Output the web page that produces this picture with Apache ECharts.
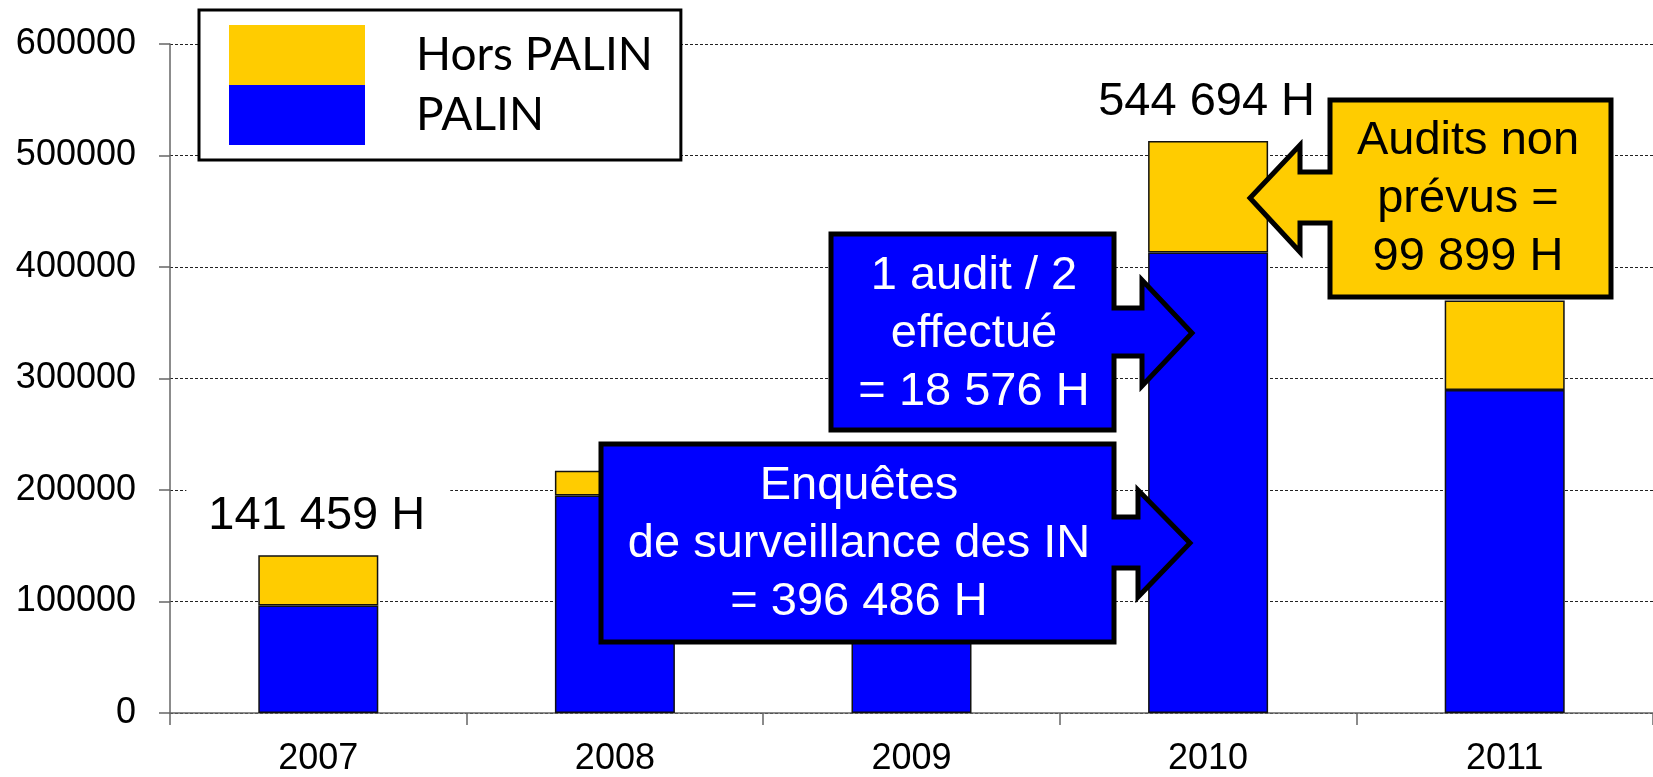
<!DOCTYPE html>
<html>
<head>
<meta charset="utf-8">
<script src="https://cdn.jsdelivr.net/npm/echarts@6/dist/echarts.min.js"></script>
<style>
html,body{margin:0;padding:0;background:#fff}
#chart{width:1653px;height:777px}
</style>
</head>
<body>
<div id="chart"></div>
<script>
// data
var years=['2007','2008','2009','2010','2011'];
var palin=[96500,195000,205000,413000,289700];
var horsPalin=[44959,22300,25000,99899,80200];
var totalLabels=['141 459 H','','','544 694 H',''];
var yMin=0,yMax=600000,yStep=100000;

var BLUE='#0000ff',YELLOW='#ffcc00',AXIS='#666';
var FONT='"Liberation Sans", Arial, sans-serif';

// callout outline: box + arrow (dir 1 = arrow on the right, -1 = on the left)
function callout(c){
  var L=c.box[0],T=c.box[1],R=c.box[2],B=c.box[3];
  var e=c.dir>0?R:L;
  var a=[[e,c.s1],[c.x1,c.s1],[c.x1,c.h1],[c.tip[0],c.tip[1]],[c.x1,c.h2],[c.x1,c.s2],[e,c.s2]];
  var pts;
  if(c.dir>0) pts=[[L,T],[R,T]].concat(a,[[R,B],[L,B]]);
  else pts=[[R,T],[R,B],[L,B]].concat(a.reverse(),[[L,T]]);
  return [{
    type:'polygon',z:100,
    shape:{points:pts},
    style:{fill:c.fill,stroke:'#000',lineWidth:5,lineJoin:'miter'}
  },{
    type:'text',z:101,x:c.tx,y:c.ty,
    style:{text:c.lines.join('\n'),fill:c.color,font:'47px '+FONT,
      align:'center',verticalAlign:'middle',lineHeight:58}
  }];
}

var callouts=[
  {box:[1330,100,1611,297],dir:-1,x1:1300,s1:172,s2:223,h1:145,h2:252,tip:[1250,198],
   fill:YELLOW,color:'#000',lines:['Audits non','prévus =','99 899 H'],tx:1468,ty:199},
  {box:[831,234,1114,430],dir:1,x1:1142,s1:308,s2:356,h1:280,h2:386,tip:[1192,333],
   fill:BLUE,color:'#fff',lines:['1 audit / 2','effectué','= 18 576 H'],tx:974,ty:334},
  {box:[601,444,1114,642],dir:1,x1:1138,s1:517,s2:568,h1:490,h2:597,tip:[1190,543],
   fill:BLUE,color:'#fff',lines:['Enquêtes','de surveillance des IN','= 396 486 H'],tx:859,ty:544}
];
var graphics=[];
callouts.forEach(function(c){graphics=graphics.concat(callout(c));});

var chart=echarts.init(document.getElementById('chart'));
chart.setOption({
  animation:false,
  backgroundColor:'#fff',
  grid:{left:170,top:44,width:1488,height:672.5,containLabel:false},
  legend:{
    orient:'vertical',left:199,top:10,
    data:['Hors PALIN','PALIN'],
    padding:[15,28,15,30],itemGap:0,itemWidth:136,itemHeight:60,
    icon:'rect',itemStyle:{borderWidth:0},
    backgroundColor:'#fff',borderColor:'#000',borderWidth:3,borderRadius:0,
    textStyle:{fontFamily:'Lato, "Open Sans", sans-serif',fontSize:46,color:'#000',
      padding:[0,0,0,46],lineHeight:60}
  },
  xAxis:{
    type:'category',data:years,
    axisLine:{lineStyle:{color:AXIS,width:1.5}},
    axisTick:{show:true,length:12,lineStyle:{color:AXIS,width:1.5}},
    axisLabel:{color:'#000',fontFamily:FONT,fontSize:36,margin:28}
  },
  yAxis:{
    type:'value',min:yMin,max:yMax,interval:yStep,
    axisLine:{show:true,lineStyle:{color:AXIS,width:1.5}},
    axisTick:{show:true,length:11,lineStyle:{color:AXIS,width:1.5}},
    axisLabel:{color:'#000',fontFamily:FONT,fontSize:36,margin:34,
      formatter:function(v){return String(v);}},
    splitLine:{lineStyle:{color:'#222',width:1,type:[3,2]}}
  },
  series:[{
    name:'PALIN',type:'bar',stack:'total',barWidth:120,
    itemStyle:{color:BLUE,borderColor:'#111',borderWidth:1.5},
    data:palin
  },{
    name:'Hors PALIN',type:'bar',stack:'total',barWidth:120,
    itemStyle:{color:YELLOW,borderColor:'#111',borderWidth:1.5},
    data:horsPalin.map(function(v,i){
      return {value:v,label:{show:!!totalLabels[i]}};
    }),
    label:{position:'top',distance:16,color:'#000',fontFamily:FONT,fontSize:47,
      backgroundColor:'#fff',padding:[8,25,0,22],
      formatter:function(p){return totalLabels[p.dataIndex];}}
  }],
  graphic:graphics
});
</script>
</body>
</html>
